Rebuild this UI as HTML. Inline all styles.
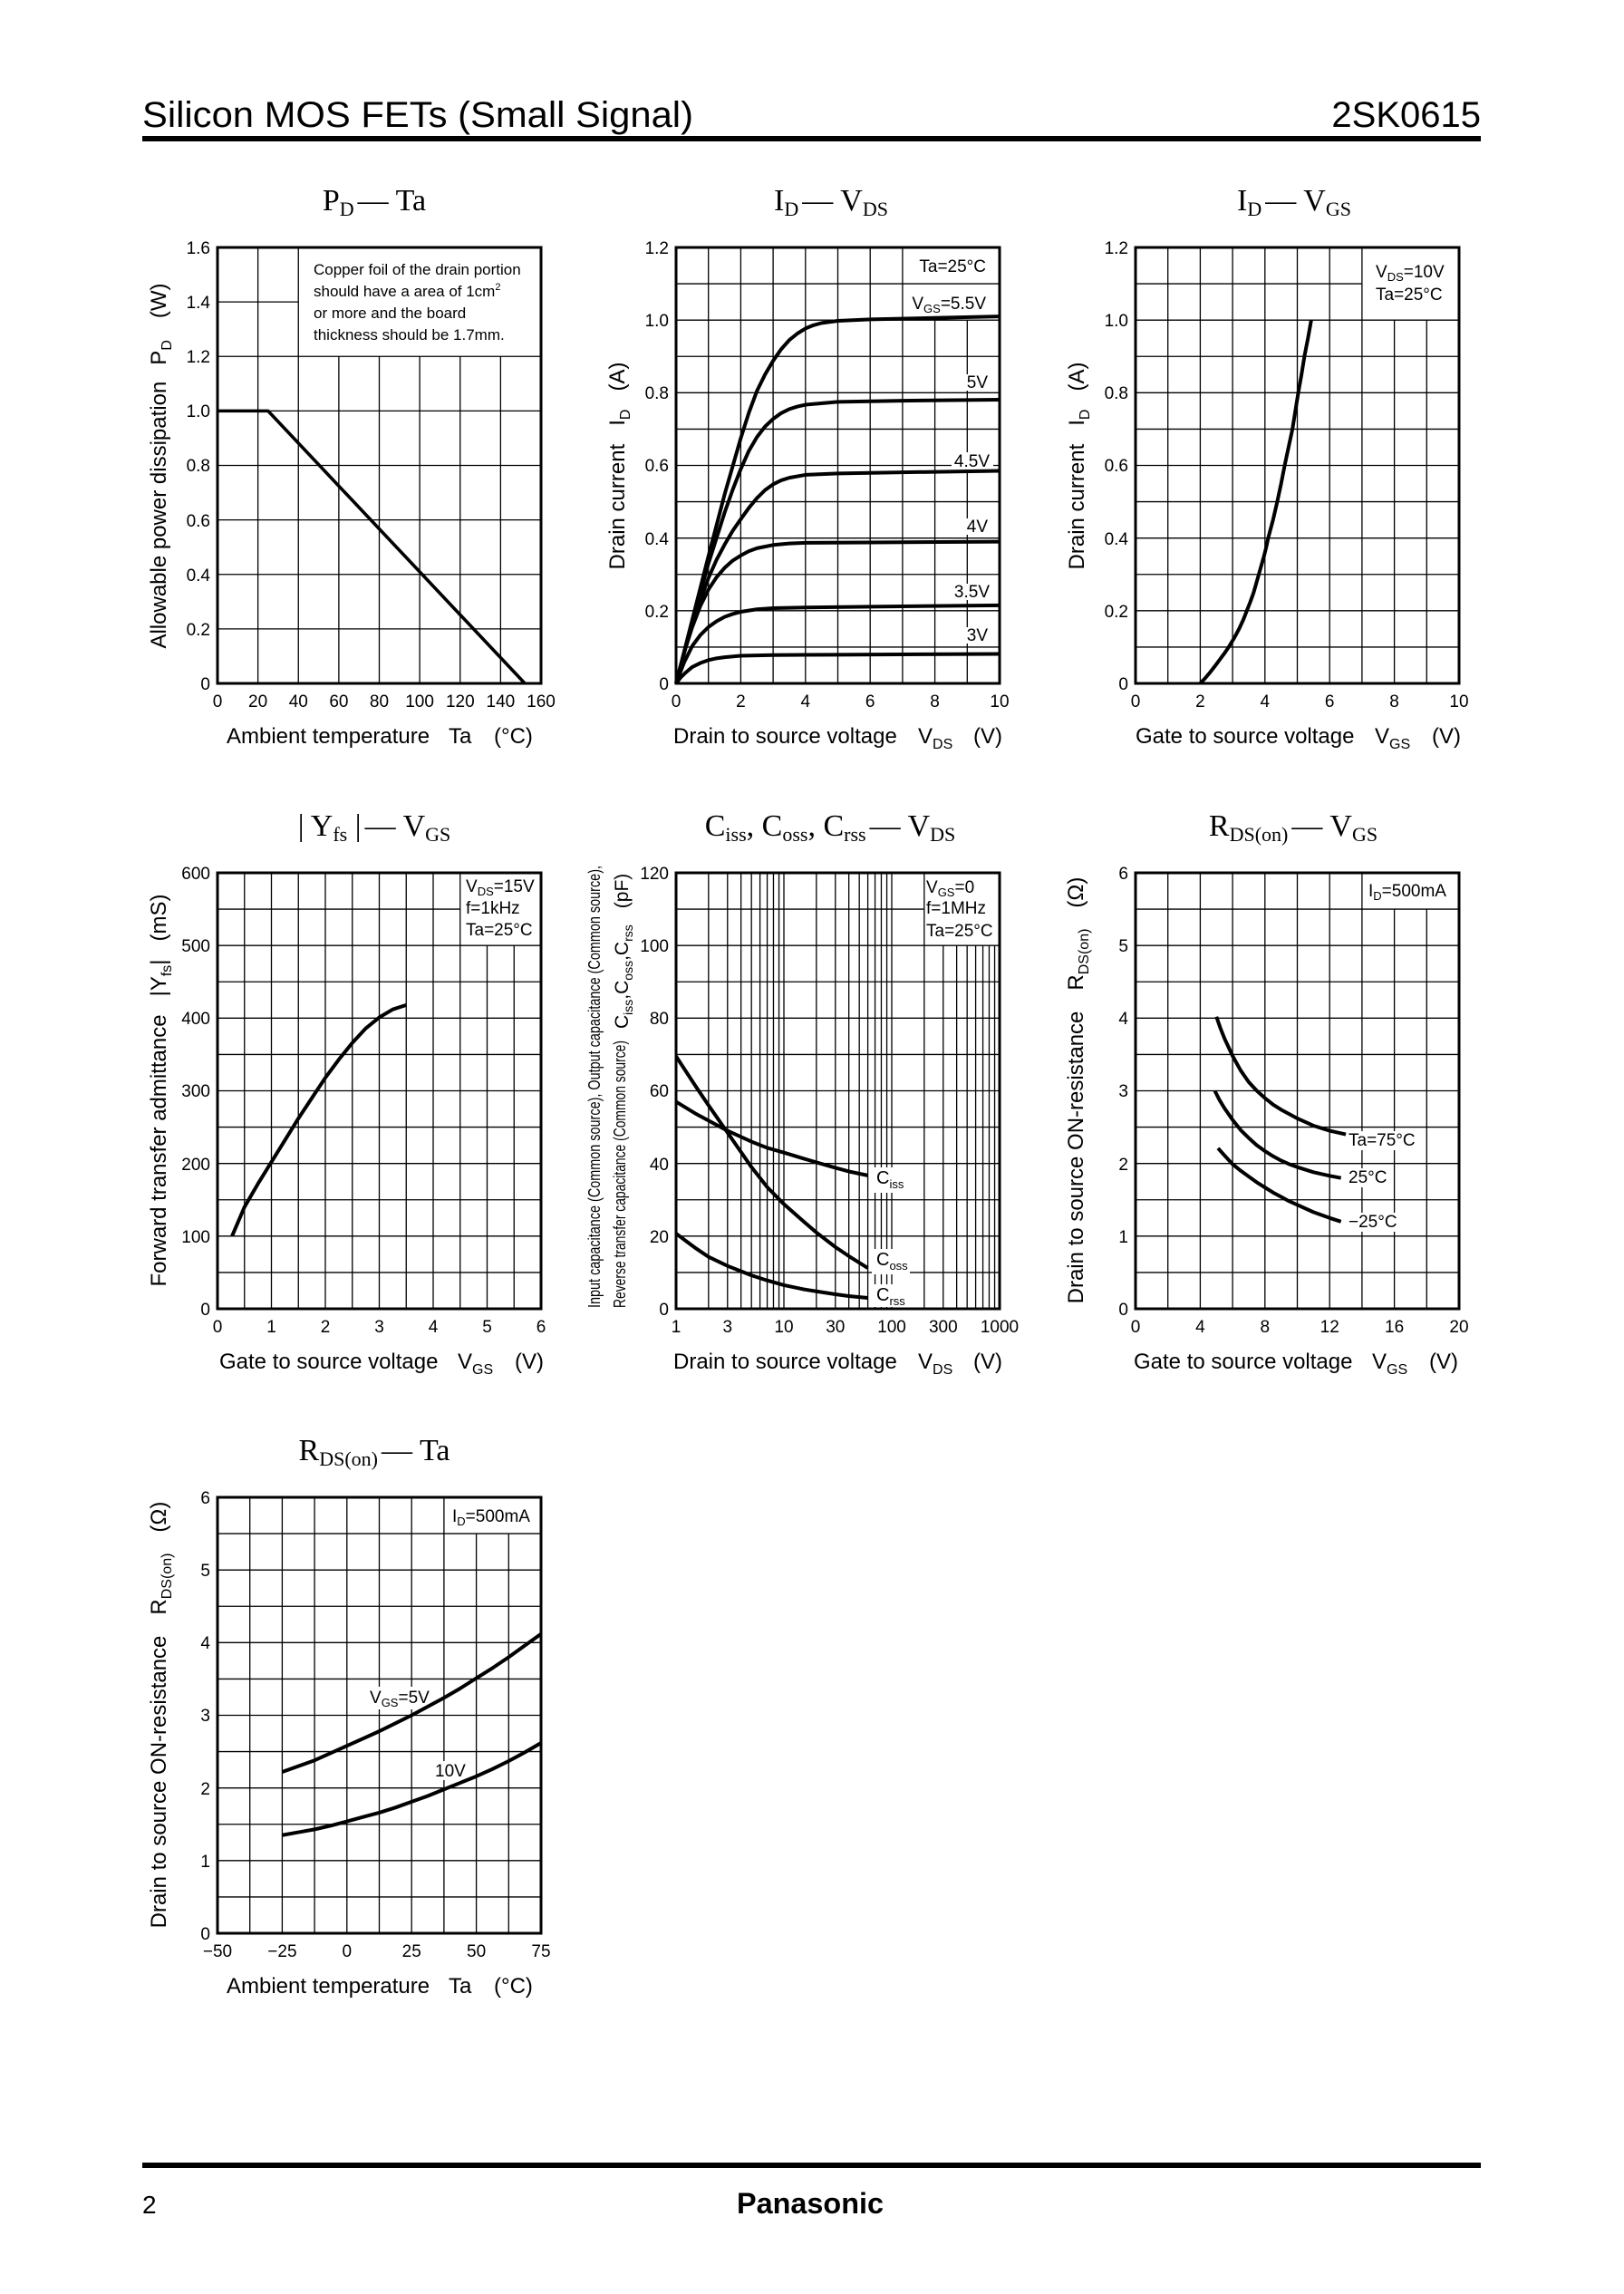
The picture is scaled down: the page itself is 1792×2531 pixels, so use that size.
<!DOCTYPE html>
<html><head><meta charset="utf-8">
<style>
html,body{margin:0;padding:0;background:#fff;}
svg{display:block;}
text{font-family:"Liberation Sans",Arial,sans-serif;fill:#000;}
.tk{font-size:19px;}
.ax{font-size:24px;}
.an{font-size:19px;}
.ti{font-family:"Liberation Serif","Times New Roman",serif;font-size:34px;}
.g{fill:none;stroke:#000;stroke-width:1.3;vector-effect:non-scaling-stroke;}
.c{fill:none;stroke:#000;stroke-width:4;stroke-linejoin:round;stroke-linecap:butt;vector-effect:non-scaling-stroke;}
.fr{fill:none;stroke:#000;stroke-width:3;}
</style></head>
<body>
<svg width="1792" height="2531" viewBox="0 0 1792 2531" xmlns="http://www.w3.org/2000/svg">
<rect x="0" y="0" width="1792" height="2531" fill="#fff"/>

<!-- Header -->
<text x="157" y="140" style="font-size:40px" textLength="608" lengthAdjust="spacingAndGlyphs">Silicon MOS FETs (Small Signal)</text>
<text x="1634" y="140" style="font-size:40px" text-anchor="end">2SK0615</text>
<rect x="157" y="150" width="1477" height="6" fill="#000"/>

<!-- Footer -->
<rect x="157" y="2386" width="1477" height="6" fill="#000"/>
<text x="157" y="2442" style="font-size:28px">2</text>
<text x="894" y="2442" style="font-size:32px;font-weight:bold" text-anchor="middle" textLength="162" lengthAdjust="spacingAndGlyphs">Panasonic</text>

<!-- ================= TITLES ================= -->
<text class="ti" x="413" y="232" text-anchor="middle">P<tspan style="font-size:22px" dy="6">D</tspan><tspan dy="-6" dx="4">—</tspan><tspan dx="8">Ta</tspan></text>
<text class="ti" x="917" y="232" text-anchor="middle">I<tspan style="font-size:22px" dy="6">D</tspan><tspan dy="-6" dx="4">—</tspan><tspan dx="8">V</tspan><tspan style="font-size:22px" dy="6">DS</tspan></text>
<text class="ti" x="1428" y="232" text-anchor="middle">I<tspan style="font-size:22px" dy="6">D</tspan><tspan dy="-6" dx="4">—</tspan><tspan dx="8">V</tspan><tspan style="font-size:22px" dy="6">GS</tspan></text>

<text class="ti" x="413" y="922" text-anchor="middle">| Y<tspan style="font-size:22px" dy="6">fs</tspan><tspan dy="-6"> |</tspan><tspan dx="4">—</tspan><tspan dx="8">V</tspan><tspan style="font-size:22px" dy="6">GS</tspan></text>
<text class="ti" x="916" y="922" text-anchor="middle">C<tspan style="font-size:22px" dy="6">iss</tspan><tspan dy="-6">, C</tspan><tspan style="font-size:22px" dy="6">oss</tspan><tspan dy="-6">, C</tspan><tspan style="font-size:22px" dy="6">rss</tspan><tspan dy="-6" dx="4">—</tspan><tspan dx="8">V</tspan><tspan style="font-size:22px" dy="6">DS</tspan></text>
<text class="ti" x="1427" y="922" text-anchor="middle">R<tspan style="font-size:22px" dy="6">DS(on)</tspan><tspan dy="-6" dx="4">—</tspan><tspan dx="8">V</tspan><tspan style="font-size:22px" dy="6">GS</tspan></text>

<text class="ti" x="413" y="1611" text-anchor="middle">R<tspan style="font-size:22px" dy="6">DS(on)</tspan><tspan dy="-6" dx="4">—</tspan><tspan dx="8">Ta</tspan></text>

<!-- ================= R1P1 PD - Ta ================= -->
<g transform="translate(240,754) scale(2.23125,-300.625)">
<path class="g" vector-effect="non-scaling-stroke" d="M20 0V1.6M40 0V1.6M60 0V1.2M80 0V1.2M100 0V1.2M120 0V1.2M140 0V1.2M0 .2H160M0 .4H160M0 .6H160M0 .8H160M0 1H160M0 1.2H160M0 1.4H40"/>
<polyline class="c" vector-effect="non-scaling-stroke" style="stroke-width:3.6" points="0,1 25,1 152,0"/>
</g>
<rect class="fr" x="240" y="273" width="357" height="481"/>
<text class="an" style="font-size:17px" x="346" y="303">Copper foil of the drain portion</text>
<text class="an" style="font-size:17px" x="346" y="327">should have a area of 1cm<tspan style="font-size:11px" dy="-7">2</tspan></text>
<text class="an" style="font-size:17px" x="346" y="351">or more and the board</text>
<text class="an" style="font-size:17px" x="346" y="375">thickness should be 1.7mm.</text>
<g class="tk" text-anchor="end">
<text x="232" y="761">0</text><text x="232" y="701">0.2</text><text x="232" y="641">0.4</text><text x="232" y="581">0.6</text><text x="232" y="520">0.8</text><text x="232" y="460">1.0</text><text x="232" y="400">1.2</text><text x="232" y="340">1.4</text><text x="232" y="280">1.6</text>
</g>
<g class="tk" text-anchor="middle">
<text x="240" y="780">0</text><text x="284.6" y="780">20</text><text x="329.3" y="780">40</text><text x="373.9" y="780">60</text><text x="418.5" y="780">80</text><text x="463.1" y="780">100</text><text x="507.8" y="780">120</text><text x="552.4" y="780">140</text><text x="597" y="780">160</text>
</g>
<text class="ax" y="820"><tspan x="250">Ambient temperature</tspan><tspan x="495">Ta</tspan><tspan x="545">(°C)</tspan></text>
<text class="ax" transform="translate(183,514) rotate(-90)" text-anchor="middle">Allowable power dissipation<tspan dx="18">P</tspan><tspan style="font-size:16px" dy="6">D</tspan><tspan dy="-6" dx="24">(W)</tspan></text>

<!-- ================= R1P2 ID - VDS ================= -->
<g transform="translate(746,754) scale(35.7,-400.833)">
<path class="g" vector-effect="non-scaling-stroke" d="M1 0V1.2M2 0V1.2M3 0V1.2M4 0V1.2M5 0V1.2M6 0V1.2M7 0V1.2M8 0V1M9 0V1M0 .1H10M0 .2H10M0 .3H10M0 .4H10M0 .5H10M0 .6H10M0 .7H10M0 .8H10M0 .9H10M0 1H10M0 1.1H10"/>
</g>
<g fill="#fff">
<rect x="1008" y="282" width="86" height="22"/>
<rect x="1003" y="323" width="91" height="25"/>
<rect x="1066" y="413" width="28" height="18"/>
<rect x="1050" y="499" width="46" height="19"/>
<rect x="1066" y="572" width="28" height="18"/>
<rect x="1050" y="644" width="46" height="18"/>
<rect x="1066" y="692" width="28" height="18"/>
</g>
<g transform="translate(746,754) scale(35.7,-400.833)">
<polyline class="c" vector-effect="non-scaling-stroke" points="0,0 0.15,0.017 0.3,0.03 0.5,0.045 0.75,0.056 1,0.064 1.25,0.069 1.5,0.072 2,0.076 3,0.078 5,0.079 10,0.081"/>
<polyline class="c" vector-effect="non-scaling-stroke" points="0,0 0.25,0.058 0.5,0.103 0.75,0.133 1,0.155 1.25,0.171 1.5,0.183 1.75,0.191 2,0.197 2.5,0.204 3,0.207 4,0.209 6,0.211 10,0.215"/>
<polyline class="c" vector-effect="non-scaling-stroke" points="0,0 0.25,0.085 0.5,0.155 0.75,0.213 1,0.258 1.25,0.292 1.5,0.318 1.75,0.338 2,0.352 2.25,0.364 2.5,0.372 3,0.381 3.5,0.385 4,0.387 6,0.388 10,0.39"/>
<polyline class="c" vector-effect="non-scaling-stroke" points="0,0 0.5,0.165 1,0.29 1.25,0.34 1.5,0.382 1.75,0.42 2,0.452 2.25,0.483 2.5,0.51 2.75,0.532 3,0.548 3.25,0.559 3.5,0.566 4,0.574 5,0.578 7,0.581 10,0.585"/>
<polyline class="c" vector-effect="non-scaling-stroke" points="0,0 0.5,0.17 1,0.33 1.5,0.47 1.75,0.533 2,0.59 2.25,0.64 2.5,0.678 2.75,0.707 3,0.728 3.25,0.744 3.5,0.755 3.75,0.762 4,0.767 5,0.775 7,0.778 10,0.781"/>
<polyline class="c" vector-effect="non-scaling-stroke" points="0,0 0.5,0.175 1,0.35 1.5,0.52 2,0.675 2.25,0.745 2.5,0.805 2.75,0.85 3,0.888 3.25,0.92 3.5,0.945 3.75,0.963 4,0.977 4.25,0.986 4.5,0.992 5,0.998 6,1.002 8,1.006 10,1.01"/>
</g>
<rect class="fr" x="746" y="273" width="357" height="481"/>
<g class="an" text-anchor="end">
<text x="1088" y="300">Ta=25°C</text>
<text x="1088" y="341">V<tspan style="font-size:13px" dy="4">GS</tspan><tspan dy="-4">=5.5V</tspan></text>
<text x="1090" y="428">5V</text>
<text x="1092" y="515">4.5V</text>
<text x="1090" y="587">4V</text>
<text x="1092" y="659">3.5V</text>
<text x="1090" y="707">3V</text>
</g>
<g class="tk" text-anchor="end">
<text x="738" y="761">0</text><text x="738" y="681">0.2</text><text x="738" y="601">0.4</text><text x="738" y="520">0.6</text><text x="738" y="440">0.8</text><text x="738" y="360">1.0</text><text x="738" y="280">1.2</text>
</g>
<g class="tk" text-anchor="middle">
<text x="746" y="780">0</text><text x="817.4" y="780">2</text><text x="888.8" y="780">4</text><text x="960.2" y="780">6</text><text x="1031.6" y="780">8</text><text x="1103" y="780">10</text>
</g>
<text class="ax" y="820"><tspan x="743">Drain to source voltage</tspan><tspan x="1013">V</tspan><tspan style="font-size:16px" dy="6">DS</tspan><tspan x="1074" dy="-6">(V)</tspan></text>
<text class="ax" transform="translate(689,514) rotate(-90)" text-anchor="middle">Drain current<tspan dx="20">I</tspan><tspan style="font-size:16px" dy="6">D</tspan><tspan dy="-6" dx="20">(A)</tspan></text>

<!-- ================= R1P3 ID - VGS ================= -->
<g transform="translate(1253,754) scale(35.7,-400.833)">
<path class="g" vector-effect="non-scaling-stroke" d="M1 0V1.2M2 0V1.2M3 0V1.2M4 0V1.2M5 0V1.2M6 0V1.2M7 0V1.2M8 0V1M9 0V1M0 .1H10M0 .2H10M0 .3H10M0 .4H10M0 .5H10M0 .6H10M0 .7H10M0 .8H10M0 .9H10M0 1H10M0 1.1H7"/>
<polyline class="c" vector-effect="non-scaling-stroke" points="2,0 2.15,0.014 2.3,0.03 2.45,0.047 2.6,0.065 2.75,0.083 2.88,0.1 3.05,0.125 3.2,0.15 3.33,0.175 3.44,0.2 3.55,0.225 3.65,0.25 3.73,0.275 3.81,0.3 3.89,0.325 3.97,0.35 4.04,0.375 4.1,0.4 4.25,0.45 4.38,0.5 4.5,0.55 4.61,0.6 4.73,0.65 4.85,0.7 4.94,0.75 5.03,0.8 5.13,0.85 5.22,0.9 5.33,0.95 5.43,1.0"/>
</g>
<rect class="fr" x="1253" y="273" width="357" height="481"/>
<g class="an">
<text x="1518" y="306">V<tspan style="font-size:13px" dy="4">DS</tspan><tspan dy="-4">=10V</tspan></text>
<text x="1518" y="331">Ta=25°C</text>
</g>
<g class="tk" text-anchor="end">
<text x="1245" y="761">0</text><text x="1245" y="681">0.2</text><text x="1245" y="601">0.4</text><text x="1245" y="520">0.6</text><text x="1245" y="440">0.8</text><text x="1245" y="360">1.0</text><text x="1245" y="280">1.2</text>
</g>
<g class="tk" text-anchor="middle">
<text x="1253" y="780">0</text><text x="1324.4" y="780">2</text><text x="1395.8" y="780">4</text><text x="1467.2" y="780">6</text><text x="1538.6" y="780">8</text><text x="1610" y="780">10</text>
</g>
<text class="ax" y="820"><tspan x="1253">Gate to source voltage</tspan><tspan x="1517">V</tspan><tspan style="font-size:16px" dy="6">GS</tspan><tspan x="1580" dy="-6">(V)</tspan></text>
<text class="ax" transform="translate(1196,514) rotate(-90)" text-anchor="middle">Drain current<tspan dx="20">I</tspan><tspan style="font-size:16px" dy="6">D</tspan><tspan dy="-6" dx="20">(A)</tspan></text>

<!-- ================= R2P1 |Yfs| - VGS ================= -->
<g transform="translate(240,1444) scale(59.5,-0.801667)">
<path class="g" vector-effect="non-scaling-stroke" d="M.5 0V600M1 0V600M1.5 0V600M2 0V600M2.5 0V600M3 0V600M3.5 0V600M4 0V600M4.5 0V600M5 0V500M5.5 0V500M0 50H6M0 100H6M0 150H6M0 200H6M0 250H6M0 300H6M0 350H6M0 400H6M0 450H6M0 500H6M0 550H4.5"/>
<polyline class="c" vector-effect="non-scaling-stroke" points="0.27,100 0.5,140 0.75,172 1,202 1.25,232 1.5,262 1.75,290 2,318 2.25,343 2.5,366 2.75,386 3,401 3.25,412 3.5,418"/>
</g>
<rect class="fr" x="240" y="963" width="357" height="481"/>
<g class="an">
<text x="514" y="984">V<tspan style="font-size:13px" dy="4">DS</tspan><tspan dy="-4">=15V</tspan></text>
<text x="514" y="1008">f=1kHz</text>
<text x="514" y="1032">Ta=25°C</text>
</g>
<g class="tk" text-anchor="end">
<text x="232" y="1451">0</text><text x="232" y="1371">100</text><text x="232" y="1291">200</text><text x="232" y="1210">300</text><text x="232" y="1130">400</text><text x="232" y="1050">500</text><text x="232" y="970">600</text>
</g>
<g class="tk" text-anchor="middle">
<text x="240" y="1470">0</text><text x="299.5" y="1470">1</text><text x="359" y="1470">2</text><text x="418.5" y="1470">3</text><text x="478" y="1470">4</text><text x="537.5" y="1470">5</text><text x="597" y="1470">6</text>
</g>
<text class="ax" y="1510"><tspan x="242">Gate to source voltage</tspan><tspan x="505">V</tspan><tspan style="font-size:16px" dy="6">GS</tspan><tspan x="568" dy="-6">(V)</tspan></text>
<text class="ax" transform="translate(183,1203) rotate(-90)" text-anchor="middle">Forward transfer admittance<tspan dx="20">|Y</tspan><tspan style="font-size:16px" dy="6">fs</tspan><tspan dy="-6">|</tspan><tspan dx="20">(mS)</tspan></text>

<!-- ================= R2P2 C - VDS ================= -->
<g transform="translate(746,1444) scale(119,-4.008333)">
<path class="g" vector-effect="non-scaling-stroke" d="M.30103 0V120M.47712 0V120M.60206 0V120M.69897 0V120M.77815 0V120M.8451 0V120M.90309 0V120M.95424 0V120M1 0V120M1.30103 0V120M1.47712 0V120M1.60206 0V120M1.69897 0V120M1.77815 0V120M1.8451 0V120M1.90309 0V120M1.95424 0V120M2 0V120M2.30103 0V120M2.47712 0V100M2.60206 0V100M2.69897 0V100M2.77815 0V100M2.8451 0V100M2.90309 0V100M2.95424 0V100M0 10H3M0 20H3M0 30H3M0 40H3M0 50H3M0 60H3M0 70H3M0 80H3M0 90H3M0 100H3M0 110H2.30103"/>
</g>
<g fill="#fff">
<rect x="962" y="1288" width="40" height="28"/>
<rect x="962" y="1378" width="42" height="28"/>
<rect x="962" y="1417" width="40" height="25"/>
</g>
<g transform="translate(746,1444) scale(119,-4.008333)">
<polyline class="c" vector-effect="non-scaling-stroke" points="0,57 0.1761,53.8 0.301,51.8 0.4771,49 0.699,46 0.8451,44.3 1,43 1.1761,41.4 1.301,40.3 1.4771,38.8 1.602,37.8 1.7782,36.7"/>
<polyline class="c" vector-effect="non-scaling-stroke" points="0,69.5 0.1761,61.5 0.301,56 0.4771,48.5 0.699,39 0.8451,33.5 1,28.8 1.1761,24.2 1.301,21 1.4771,17 1.602,14.5 1.7782,11.2"/>
<polyline class="c" vector-effect="non-scaling-stroke" points="0,20.7 0.1761,16.8 0.301,14.3 0.4771,11.8 0.699,9.2 0.8451,7.8 1,6.5 1.1761,5.4 1.301,4.8 1.4771,4 1.602,3.5 1.7782,3"/>
</g>
<rect class="fr" x="746" y="963" width="357" height="481"/>
<g class="an">
<text x="1022" y="985">V<tspan style="font-size:13px" dy="4">GS</tspan><tspan dy="-4">=0</tspan></text>
<text x="1022" y="1008">f=1MHz</text>
<text x="1022" y="1033">Ta=25°C</text>
<text x="967" y="1306" style="font-size:20px">C<tspan style="font-size:13px" dy="5">iss</tspan></text>
<text x="967" y="1396" style="font-size:20px">C<tspan style="font-size:13px" dy="5">oss</tspan></text>
<text x="967" y="1435" style="font-size:20px">C<tspan style="font-size:13px" dy="5">rss</tspan></text>
</g>
<g class="tk" text-anchor="end">
<text x="738" y="1451">0</text><text x="738" y="1371">20</text><text x="738" y="1291">40</text><text x="738" y="1210">60</text><text x="738" y="1130">80</text><text x="738" y="1050">100</text><text x="738" y="970">120</text>
</g>
<g class="tk" text-anchor="middle">
<text x="746" y="1470">1</text><text x="802.8" y="1470">3</text><text x="865" y="1470">10</text><text x="921.8" y="1470">30</text><text x="984" y="1470">100</text><text x="1040.8" y="1470">300</text><text x="1103" y="1470">1000</text>
</g>
<text class="ax" y="1510"><tspan x="743">Drain to source voltage</tspan><tspan x="1013">V</tspan><tspan style="font-size:16px" dy="6">DS</tspan><tspan x="1074" dy="-6">(V)</tspan></text>
<text transform="translate(662,1443) rotate(-90)" style="font-size:18px" textLength="488" lengthAdjust="spacingAndGlyphs">Input capacitance (Common source), Output capacitance (Common source),</text>
<text transform="translate(690,1443) rotate(-90)" style="font-size:18px" textLength="295" lengthAdjust="spacingAndGlyphs">Reverse transfer capacitance (Common source)</text>
<text transform="translate(693,1135) rotate(-90)" style="font-size:21px">C<tspan style="font-size:14px" dy="5">iss</tspan><tspan dy="-5">,C</tspan><tspan style="font-size:14px" dy="5">oss</tspan><tspan dy="-5">,C</tspan><tspan style="font-size:14px" dy="5">rss</tspan><tspan dy="-5" dx="18">(pF)</tspan></text>

<!-- ================= R2P3 RDS(on) - VGS ================= -->
<g transform="translate(1253,1444) scale(17.85,-80.1667)">
<path class="g" vector-effect="non-scaling-stroke" d="M2 0V6M4 0V6M6 0V6M8 0V6M10 0V6M12 0V6M14 0V6M16 0V5.5M18 0V5.5M0 .5H20M0 1H20M0 1.5H20M0 2H20M0 2.5H20M0 3H20M0 3.5H20M0 4H20M0 4.5H20M0 5H20M0 5.5H20"/>
</g>
<g fill="#fff">
<rect x="1484" y="1248" width="82" height="21"/>
<rect x="1484" y="1289" width="50" height="21"/>
<rect x="1484" y="1338" width="60" height="21"/>
</g>
<g transform="translate(1253,1444) scale(17.85,-80.1667)">
<polyline class="c" vector-effect="non-scaling-stroke" points="5,4.02 5.25,3.86 5.5,3.72 5.75,3.6 6,3.48 6.5,3.28 7,3.12 7.5,3.0 8,2.9 8.5,2.81 9,2.74 9.5,2.68 10,2.62 11,2.52 12,2.45 13,2.4"/>
<polyline class="c" vector-effect="non-scaling-stroke" points="4.9,3.0 5.2,2.87 5.5,2.76 5.75,2.68 6,2.6 6.5,2.46 7,2.35 7.5,2.25 8,2.17 8.5,2.1 9,2.04 9.5,1.99 10,1.95 11,1.88 12,1.83 12.7,1.8"/>
<polyline class="c" vector-effect="non-scaling-stroke" points="5.1,2.21 5.5,2.11 6,1.99 6.5,1.9 7,1.82 7.5,1.74 8,1.67 8.5,1.6 9,1.54 9.5,1.48 10,1.43 11,1.33 12,1.25 12.7,1.2"/>
</g>
<rect class="fr" x="1253" y="963" width="357" height="481"/>
<g class="an">
<text x="1510" y="989">I<tspan style="font-size:13px" dy="4">D</tspan><tspan dy="-4">=500mA</tspan></text>
<text x="1488" y="1264">Ta=75°C</text>
<text x="1488" y="1305">25°C</text>
<text x="1488" y="1354">−25°C</text>
</g>
<g class="tk" text-anchor="end">
<text x="1245" y="1451">0</text><text x="1245" y="1371">1</text><text x="1245" y="1291">2</text><text x="1245" y="1210">3</text><text x="1245" y="1130">4</text><text x="1245" y="1050">5</text><text x="1245" y="970">6</text>
</g>
<g class="tk" text-anchor="middle">
<text x="1253" y="1470">0</text><text x="1324.4" y="1470">4</text><text x="1395.8" y="1470">8</text><text x="1467.2" y="1470">12</text><text x="1538.6" y="1470">16</text><text x="1610" y="1470">20</text>
</g>
<text class="ax" y="1510"><tspan x="1251">Gate to source voltage</tspan><tspan x="1514">V</tspan><tspan style="font-size:16px" dy="6">GS</tspan><tspan x="1577" dy="-6">(V)</tspan></text>
<text class="ax" transform="translate(1195,1203) rotate(-90)" text-anchor="middle">Drain to source ON-resistance<tspan dx="23">R</tspan><tspan style="font-size:16px" dy="6">DS(on)</tspan><tspan dy="-6" dx="23">(Ω)</tspan></text>

<!-- ================= R3P1 RDS(on) - Ta ================= -->
<g transform="translate(240,2133) scale(2.856,-80.1667) translate(50,0)">
<path class="g" vector-effect="non-scaling-stroke" d="M-37.5 0V6M-25 0V6M-12.5 0V6M0 0V6M12.5 0V6M25 0V6M37.5 0V6M50 0V5.5M62.5 0V5.5M-50 .5H75M-50 1H75M-50 1.5H75M-50 2H75M-50 2.5H75M-50 3H75M-50 3.5H75M-50 4H75M-50 4.5H75M-50 5H75M-50 5.5H75"/>
</g>
<g fill="#fff">
<rect x="404" y="1861" width="75" height="25"/>
<rect x="476" y="1943" width="40" height="21"/>
</g>
<g transform="translate(240,2133) scale(2.856,-80.1667) translate(50,0)">
<polyline class="c" vector-effect="non-scaling-stroke" points="-25,2.22 -18.75,2.3 -12.5,2.38 -6.25,2.48 0,2.58 6.25,2.68 12.5,2.78 18.75,2.89 25,3.0 31.25,3.12 37.5,3.24 43.75,3.37 50,3.51 56.25,3.65 62.5,3.8 68.75,3.96 75,4.12"/>
<polyline class="c" vector-effect="non-scaling-stroke" points="-25,1.35 -18.75,1.39 -12.5,1.43 -6.25,1.48 0,1.54 6.25,1.6 12.5,1.66 18.75,1.73 25,1.81 31.25,1.89 37.5,1.98 43.75,2.07 50,2.16 56.25,2.26 62.5,2.37 68.75,2.49 75,2.62"/>
</g>
<rect class="fr" x="240" y="1652" width="357" height="481"/>
<g class="an">
<text x="499" y="1679">I<tspan style="font-size:13px" dy="4">D</tspan><tspan dy="-4">=500mA</tspan></text>
<text x="408" y="1879">V<tspan style="font-size:13px" dy="4">GS</tspan><tspan dy="-4">=5V</tspan></text>
<text x="480" y="1960">10V</text>
</g>
<g class="tk" text-anchor="end">
<text x="232" y="2140">0</text><text x="232" y="2060">1</text><text x="232" y="1980">2</text><text x="232" y="1899">3</text><text x="232" y="1819">4</text><text x="232" y="1739">5</text><text x="232" y="1659">6</text>
</g>
<g class="tk" text-anchor="middle">
<text x="240" y="2159">−50</text><text x="311.4" y="2159">−25</text><text x="382.8" y="2159">0</text><text x="454.2" y="2159">25</text><text x="525.6" y="2159">50</text><text x="597" y="2159">75</text>
</g>
<text class="ax" y="2199"><tspan x="250">Ambient temperature</tspan><tspan x="495">Ta</tspan><tspan x="545">(°C)</tspan></text>
<text class="ax" transform="translate(183,1892) rotate(-90)" text-anchor="middle">Drain to source ON-resistance<tspan dx="23">R</tspan><tspan style="font-size:16px" dy="6">DS(on)</tspan><tspan dy="-6" dx="23">(Ω)</tspan></text>

</svg>
</body></html>
